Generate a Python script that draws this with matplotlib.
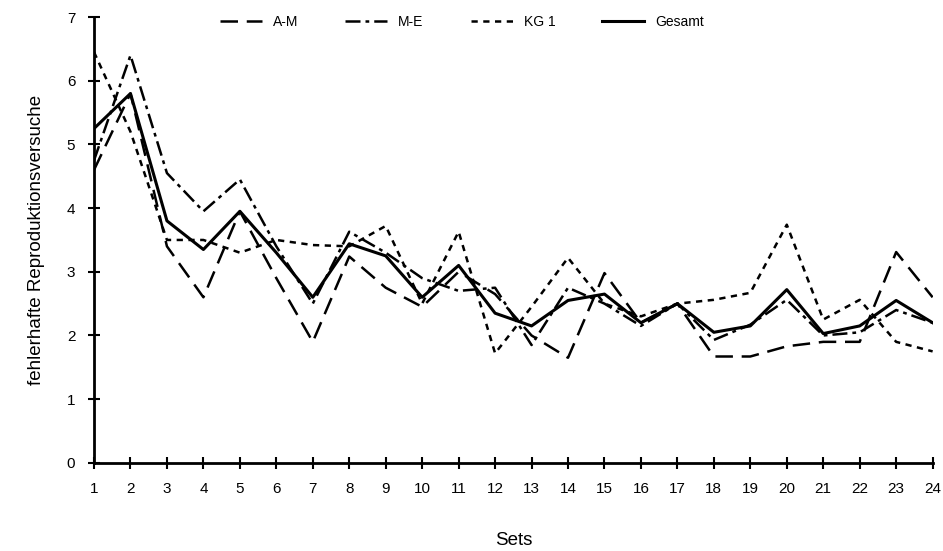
import numpy as np
import matplotlib
matplotlib.use('Agg')
import matplotlib.pyplot as plt

plt.rcParams['font.family'] = ['Liberation Sans', 'DejaVu Sans']

sets = list(range(1, 25))
a_m = [4.6, 5.8, 3.4, 2.6, 3.95, 2.9, 1.9, 3.24, 2.75, 2.45, 3.0, 2.65,
       2.0, 1.65, 2.98, 2.2, 2.5, 1.67, 1.67, 1.83, 1.9, 1.9, 3.31, 2.6]
m_e = [4.75, 6.4, 4.55, 3.95, 4.45, 3.4, 2.5, 3.63, 3.3, 2.9, 2.7, 2.75,
       1.85, 2.75, 2.5, 2.15, 2.5, 1.93, 2.17, 2.56, 2.0, 2.05, 2.4, 2.2]
kg1 = [6.45, 5.2, 3.5, 3.5, 3.3, 3.5, 3.42, 3.4, 3.72, 2.5, 3.63, 1.72,
       2.45, 3.22, 2.5, 2.3, 2.5, 2.56, 2.67, 3.74, 2.25, 2.56, 1.9, 1.75]
gesamt = [5.25, 5.8, 3.8, 3.35, 3.95, 3.3, 2.6, 3.44, 3.25, 2.6, 3.1, 2.35,
          2.15, 2.55, 2.65, 2.2, 2.5, 2.05, 2.15, 2.72, 2.03, 2.15, 2.55, 2.2]

fig = plt.figure(figsize=(9.43, 5.51), dpi=100)
ax = fig.add_axes([0.0997, 0.16, 0.8893, 0.809])

ax.plot(sets, a_m, color='black', lw=1.8, dashes=(7, 3.5), label='A-M')
ax.plot(sets, m_e, color='black', lw=1.8, dashes=(6, 2, 1.5, 2), label='M-E')
ax.plot(sets, kg1, color='black', lw=1.8, dashes=(2.5, 2.2), label='KG 1')
ax.plot(sets, gesamt, color='black', lw=2.2, label='Gesamt')

ax.set_xlim(1, 24)
ax.set_ylim(0, 7)
ax.set_xticks(sets)
ax.set_yticks(range(0, 8))
for s in ['top', 'right']:
    ax.spines[s].set_visible(False)
for s in ['left', 'bottom']:
    ax.spines[s].set_linewidth(2)
ax.tick_params(direction='inout', length=9, width=1.5, labelsize=11, pad=9)
ax.set_xlabel('Sets', fontsize=13.5, labelpad=26)
ax.set_ylabel('fehlerhafte Reproduktionsversuche', fontsize=13.5, labelpad=16)

fig.legend(loc='upper center', bbox_to_anchor=(0.49, 0.995), ncol=4,
           frameon=False, fontsize=10, handlelength=3.0, columnspacing=3.4,
           handletextpad=0.8)

fig.savefig('out.png', dpi=100)
